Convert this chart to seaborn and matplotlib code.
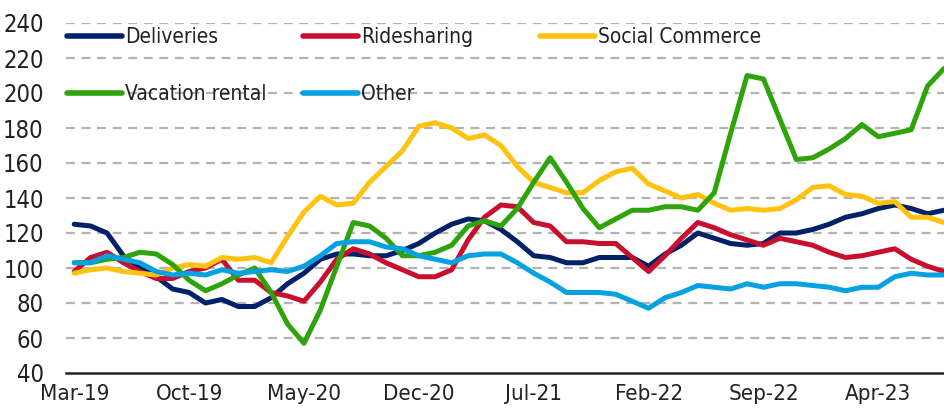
import numpy as np
import pandas as pd
import seaborn as sns
import matplotlib.pyplot as plt
from matplotlib.lines import Line2D

# monthly index, Mar-19 .. Aug-23
months = pd.date_range("2019-03-01", "2023-08-01", freq="MS")

deliveries = [125, 124, 120, 107, 100, 95, 88, 86, 80, 82, 78, 78, 83, 91, 97, 105, 108, 108, 107, 107,
              110, 114, 120, 125, 128, 127, 122, 115, 107, 106, 103, 103, 106, 106, 106, 101, 108, 113,
              120, 117, 114, 113, 114, 120, 120, 122, 125, 129, 131, 134, 136, 134, 131, 133]
ridesharing = [98, 106, 109, 103, 98, 94, 94, 98, 100, 105, 93, 93, 86, 84, 81, 92, 105, 111, 108, 103,
               99, 95, 95, 99, 116, 129, 136, 135, 126, 124, 115, 115, 114, 114, 106, 98, 107, 117,
               126, 123, 119, 116, 113, 117, 115, 113, 109, 106, 107, 109, 111, 105, 101, 98]
social_commerce = [97, 99, 100, 98, 97, 96, 100, 102, 101, 106, 105, 106, 103, 118, 132, 141, 136, 137, 149, 158,
                   167, 181, 183, 180, 174, 176, 170, 158, 149, 146, 143, 143, 150, 155, 157, 148, 144, 140,
                   142, 137, 133, 134, 133, 134, 139, 146, 147, 142, 141, 137, 138, 129, 129, 126]
vacation_rental = [103, 103, 105, 106, 109, 108, 102, 93, 87, 91, 96, 100, 86, 68, 57, 76, 101, 126, 124, 117,
                   107, 107, 109, 113, 124, 127, 124, 134, 149, 163, 149, 134, 123, 128, 133, 133, 135, 135,
                   133, 143, 177, 210, 208, 185, 162, 163, 168, 174, 182, 175, 177, 179, 204, 214]
other = [103, 103, 107, 105, 103, 98, 96, 97, 96, 99, 97, 98, 99, 98, 101, 107, 114, 115, 115, 112,
         111, 107, 105, 103, 107, 108, 108, 103, 97, 92, 86, 86, 86, 85, 81, 77, 83, 86,
         90, 89, 88, 91, 89, 91, 91, 90, 89, 87, 89, 89, 95, 97, 96, 96]

series_names = ["Deliveries", "Ridesharing", "Social Commerce", "Vacation rental", "Other"]
colors = ["#002169", "#C8102E", "#FFC20E", "#2EA30A", "#05A1E0"]

df = pd.DataFrame({"month": np.arange(len(months)),
                   "Deliveries": deliveries, "Ridesharing": ridesharing,
                   "Social Commerce": social_commerce, "Vacation rental": vacation_rental,
                   "Other": other})
long_df = df.melt(id_vars="month", var_name="series", value_name="value")

sns.set_style("white")
plt.rcParams["font.family"] = ["DejaVu Sans"]
plt.rcParams["font.stretch"] = "condensed"

fig = plt.figure(figsize=(9.44, 4.13), dpi=100)
ax = fig.add_axes([66 / 944, 1 - 373 / 413, 878 / 944, 350 / 413])

sns.lineplot(data=long_df, x="month", y="value", hue="series", hue_order=series_names,
             palette=colors, linewidth=3.6, legend=False, ax=ax)

ax.set_xlim(-0.5, len(months) - 1)
ax.set_ylim(40, 240)
ax.set_xlabel("")
ax.set_ylabel("")

# y axis: dashed grid, no ticks
ax.set_yticks(np.arange(40, 241, 20))
ax.tick_params(axis="y", length=0, pad=16, labelsize=17, labelcolor="#222222")
for y in range(60, 241, 20):
    ax.axhline(y, color="#b3b3b3", linewidth=1.6, linestyle=(0, (4, 3)), zorder=0)

# x axis: tick marks between categories, labels centred on months
label_pos = np.arange(0, len(months), 7)
ax.set_xticks(label_pos - 0.5)
ax.set_xticklabels([])
ax.tick_params(axis="x", which="major", direction="in", length=5, width=1.5, color="#222222")
ax.set_xticks(label_pos, minor=True)
ax.set_xticklabels([months[i].strftime("%b-%y") for i in label_pos], minor=True)
ax.tick_params(axis="x", which="minor", length=0, pad=8, labelsize=16, labelcolor="#222222")

for s in ["top", "right", "left"]:
    ax.spines[s].set_visible(False)
ax.spines["bottom"].set_color("#222222")
ax.spines["bottom"].set_linewidth(1.8)

handles = [Line2D([], [], color=c, linewidth=4) for c in colors]
legend_cols = [([0, 3], 67), ([1, 4], 303), ([2], 540)]
for idx, xpx in legend_cols:
    leg = fig.legend([handles[i] for i in idx], [series_names[i] for i in idx],
                     loc="upper left", bbox_to_anchor=(xpx / 944, 1 - 27 / 413),
                     frameon=False, borderpad=0, borderaxespad=0, fontsize=15,
                     handlelength=2.65, handletextpad=0.15, labelspacing=1.8,
                     labelcolor="#222222")

fig.savefig("out.png", dpi=100)
